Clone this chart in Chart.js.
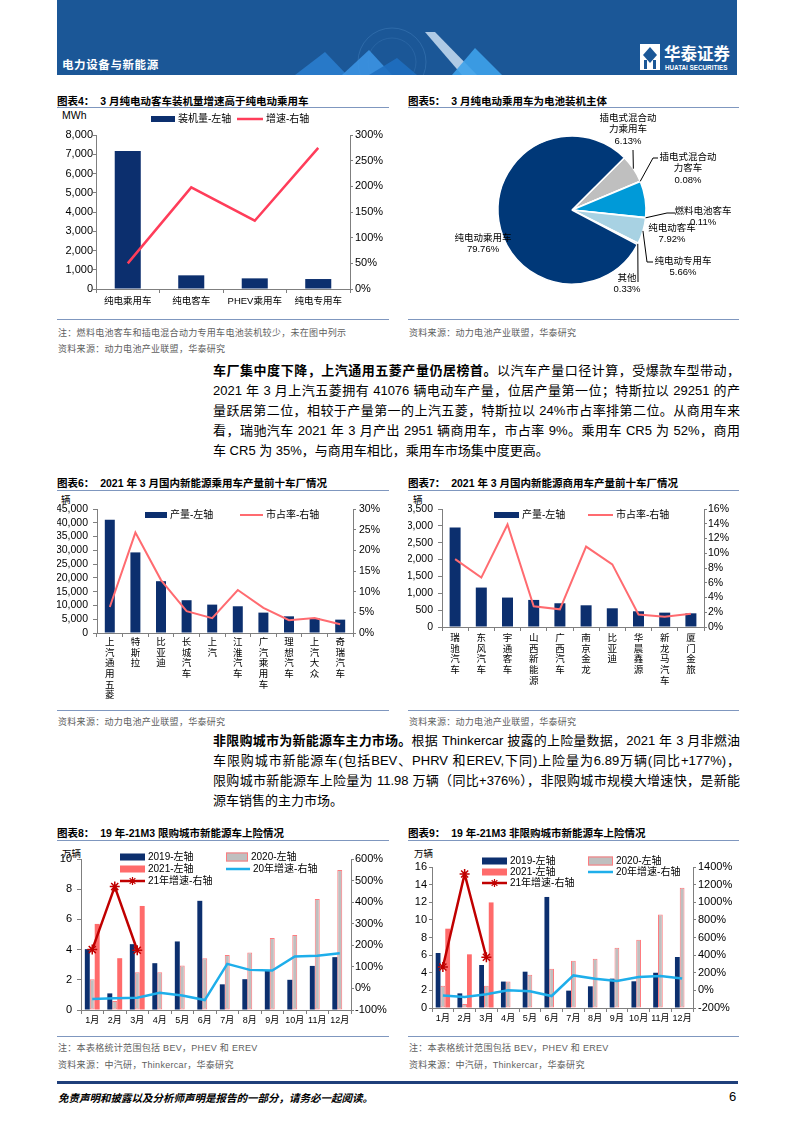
<!DOCTYPE html>
<html>
<head>
<meta charset="utf-8">
<script src="https://cdn.jsdelivr.net/npm/chart.js@4.4.1/dist/chart.umd.min.js"></script>
<style>
  body { margin:0; width:793px; height:1122px; position:relative; overflow:hidden; background:#fff;
         font-family:"Liberation Sans","Noto Sans CJK SC",sans-serif; color:#000; }
  .abs { position:absolute; }
  .title { position:absolute; font-size:10.5px; font-weight:700; white-space:nowrap; }
  .rule { position:absolute; height:0; border-top:1.5px solid #7f97bf; }
  .note { position:absolute; font-size:9px; color:#606060; white-space:nowrap; letter-spacing:0.3px; }
  .unit { position:absolute; font-size:9.5px; white-space:nowrap; }
  .para div { height:20px; line-height:20px; font-size:13px; white-space:nowrap;
              text-align:justify; text-align-last:justify; }
  .para div.last { text-align:left; text-align-last:left; }
  canvas { position:absolute; }
</style>
</head>
<body>

<!-- 页眉 -->
<svg class="abs" style="left:57px;top:0" width="680" height="75">
  <rect width="680" height="75" fill="#1b5797"/>
  <circle cx="335" cy="62" r="34" fill="none" stroke="#4f8cc8" stroke-width="0.6" opacity="0.6"/>
  <circle cx="335" cy="62" r="24" fill="none" stroke="#4f8cc8" stroke-width="0.5" opacity="0.5"/>
  <polygon points="238,75 268,52 290,75" fill="#2a7fd0" opacity="0.85"/>
  <polygon points="285,75 312,50 335,75" fill="#3d97e6" opacity="0.85"/>
  <polygon points="312,75 340,58 360,75" fill="#1f6fc0" opacity="0.9"/>
  <polygon points="368,32 378,32 420,75 405,75" fill="#c9def2" opacity="0.85"/>
  <polygon points="395,75 418,48 445,75" fill="#3ea2ea" opacity="0.9"/>
  <text x="5" y="69" font-size="11.5" font-weight="700" fill="#fff" letter-spacing="0.6"
        font-family="Noto Sans CJK SC">电力设备与新能源</text>
  <rect x="583" y="44" width="20" height="26" fill="#fff"/>
  <polygon points="593,47 600,55 593,63 586,55" fill="#1b5797"/>
  <rect x="587" y="60" width="3" height="9" fill="#1b5797"/>
  <rect x="596" y="60" width="3" height="9" fill="#1b5797"/>
  <text x="607" y="60" font-size="16.5" font-weight="700" fill="#fff" font-family="Noto Sans CJK SC">华泰证券</text>
  <text x="608" y="70" font-size="6.3" font-weight="700" fill="#fff" font-family="Liberation Sans">HUATAI SECURITIES</text>
</svg>

<!-- 图表4 / 图表5 -->
<div class="title" style="left:57px;top:93px">图表4：&nbsp;&nbsp;3 月纯电动客车装机量增速高于纯电动乘用车</div>
<div class="rule" style="left:57px;top:107px;width:332px"></div>
<div class="title" style="left:408px;top:93px">图表5：&nbsp;&nbsp;3 月纯电动乘用车为电池装机主体</div>
<div class="rule" style="left:408px;top:107px;width:331px"></div>
<div class="unit" style="left:62px;top:109px;font-size:10.5px">MWh</div>
<canvas id="c4" width="330" height="205" style="left:57px;top:108px"></canvas>
<canvas id="c5" width="330" height="200" style="left:408px;top:108px"></canvas>
<div class="rule" style="left:57px;top:319px;width:332px"></div>
<div class="rule" style="left:408px;top:319px;width:331px"></div>
<div class="note" style="left:58px;top:326px">注：燃料电池客车和插电混合动力专用车电池装机较少，未在图中列示</div>
<div class="note" style="left:58px;top:342px">资料来源：动力电池产业联盟，华泰研究</div>
<div class="note" style="left:409px;top:326px">资料来源：动力电池产业联盟，华泰研究</div>

<!-- 正文1 -->
<div class="para abs" style="left:213px;top:361px;width:527px">
  <div><b>车厂集中度下降，上汽通用五菱产量仍居榜首。</b>以汽车产量口径计算，受爆款车型带动，</div>
  <div>2021 年 3 月上汽五菱拥有 41076 辆电动车产量，位居产量第一位；特斯拉以 29251 的产</div>
  <div>量跃居第二位，相较于产量第一的上汽五菱，特斯拉以 24%市占率排第二位。从商用车来</div>
  <div>看，瑞驰汽车 2021 年 3 月产出 2951 辆商用车，市占率 9%。乘用车 CR5 为 52%，商用</div>
  <div class="last">车 CR5 为 35%，与商用车相比，乘用车市场集中度更高。</div>
</div>

<!-- 图表6 / 图表7 -->
<div class="title" style="left:57px;top:475px">图表6：&nbsp;&nbsp;2021 年 3 月国内新能源乘用车产量前十车厂情况</div>
<div class="rule" style="left:57px;top:490px;width:332px"></div>
<div class="title" style="left:408px;top:475px">图表7：&nbsp;&nbsp;2021 年 3 月国内新能源商用车产量前十车厂情况</div>
<div class="rule" style="left:408px;top:490px;width:331px"></div>
<div class="unit" style="left:61px;top:492px">辆</div>
<div class="unit" style="left:413px;top:492px">辆</div>
<canvas id="c6" width="330" height="210" style="left:57px;top:493px"></canvas>
<canvas id="c7" width="332" height="210" style="left:408px;top:493px"></canvas>
<div class="rule" style="left:57px;top:710px;width:332px"></div>
<div class="rule" style="left:408px;top:710px;width:331px"></div>
<div class="note" style="left:58px;top:715px">资料来源：动力电池产业联盟，华泰研究</div>
<div class="note" style="left:409px;top:715px">资料来源：动力电池产业联盟，华泰研究</div>

<!-- 正文2 -->
<div class="para abs" style="left:213px;top:731px;width:527px">
  <div><b>非限购城市为新能源车主力市场。</b>根据 Thinkercar 披露的上险量数据，2021 年 3 月非燃油</div>
  <div>车限购城市新能源车(包括BEV、PHRV 和EREV,下同)上险量为6.89万辆(同比+177%)，</div>
  <div>限购城市新能源车上险量为 11.98 万辆（同比+376%），非限购城市规模大增速快，是新能</div>
  <div class="last">源车销售的主力市场。</div>
</div>

<!-- 图表8 / 图表9 -->
<div class="title" style="left:57px;top:825px">图表8：&nbsp;&nbsp;19 年-21M3 限购城市新能源车上险情况</div>
<div class="rule" style="left:57px;top:840px;width:332px"></div>
<div class="title" style="left:408px;top:825px">图表9：&nbsp;&nbsp;19 年-21M3 非限购城市新能源车上险情况</div>
<div class="rule" style="left:408px;top:840px;width:331px"></div>
<div class="unit" style="left:62px;top:846px">万辆</div>
<div class="unit" style="left:414px;top:846px">万辆</div>
<canvas id="c8" width="330" height="188" style="left:57px;top:845px"></canvas>
<canvas id="c9" width="332" height="188" style="left:408px;top:845px"></canvas>
<div class="rule" style="left:57px;top:1036px;width:332px"></div>
<div class="rule" style="left:408px;top:1036px;width:331px"></div>
<div class="note" style="left:58px;top:1041px">注：本表格统计范围包括 BEV，PHEV 和 EREV</div>
<div class="note" style="left:58px;top:1058px">资料来源：中汽研，Thinkercar，华泰研究</div>
<div class="note" style="left:409px;top:1041px">注：本表格统计范围包括 BEV，PHEV 和 EREV</div>
<div class="note" style="left:409px;top:1058px">资料来源：中汽研，Thinkercar，华泰研究</div>

<!-- 页脚 -->
<div class="abs" style="left:57px;top:1081px;width:681px;height:2.5px;background:#1f3f7a"></div>
<div class="abs" style="left:58px;top:1090px;font-size:10.5px;font-style:italic;font-weight:700;white-space:nowrap">免责声明和披露以及分析师声明是报告的一部分，请务必一起阅读。</div>
<div class="abs" style="left:729px;top:1089px;font-size:13px">6</div>

<script>
// 图表4：装机量（MWh）和增速
const c4Labels = ['纯电乘用车', '纯电客车', 'PHEV乘用车', '纯电专用车'];
const c4Install = [7170, 710, 553, 518];
const c4Growth = [50, 198, 133, 275];

// 图表5：装机占比
const c5Labels = ['插电式混合动力乘用车', '插电式混合动力客车', '纯电动客车', '燃料电池客车', '纯电动专用车', '其他', '纯电动乘用车'];
const c5Share = [6.13, 0.08, 7.92, 0.11, 5.66, 0.33, 79.76];

// 图表6：乘用车前十
const c6Makers = ['上汽通用五菱', '特斯拉', '比亚迪', '长城汽车', '上汽', '江淮汽车', '广汽乘用车', '理想汽车', '上汽大众', '奇瑞汽车'];
const c6Output = [41076, 29251, 18800, 11900, 10300, 9700, 7400, 6050, 5450, 4850];
const c6Share = [6.3, 24.3, 12.8, 5.3, 3.6, 10.4, 6.1, 3.1, 3.6, 2.1];

// 图表7：商用车前十
const c7Makers = ['瑞驰汽车', '东风汽车', '宇通客车', '山西新能源', '广西汽车', '南京金龙', '比亚迪', '华晨鑫源', '新龙马汽车', '厦门金旅'];
const c7Output = [2951, 1170, 873, 803, 704, 644, 555, 466, 426, 406];
const c7Share = [9.2, 6.7, 13.9, 2.8, 2.4, 10.9, 8.5, 1.7, 1.4, 1.8];

// 图表8 / 图表9：上险量（万辆）与增速
const months = ['1月', '2月', '3月', '4月', '5月', '6月', '7月', '8月', '9月', '10月', '11月', '12月'];
const c8Y2019 = [4.03, 1.10, 4.36, 3.10, 4.54, 7.23, 1.70, 2.04, 2.60, 2.00, 2.92, 3.50];
const c8Y2020 = [2.04, 0.60, 2.50, 2.50, 2.94, 3.43, 3.65, 3.80, 4.76, 4.96, 7.35, 9.27];
const c8Y2021 = [5.70, 3.43, 6.89];
const c8G2020 = [-49, -46, -43, -20, -33, -54, 114, 86, 83, 148, 152, 163];
const c8G2021 = [180, 472, 177];

const c9Y2019 = [6.24, 1.66, 4.88, 3.00, 4.12, 12.60, 1.97, 2.46, 3.33, 3.03, 4.00, 5.79];
const c9Y2020 = [2.53, 0.45, 2.52, 3.00, 3.78, 4.46, 5.37, 5.60, 6.85, 7.75, 10.60, 13.65];
const c9Y2021 = [9.00, 6.09, 11.98];
const c9G2020 = [-57, -74, -45, 0, -11, -64, 170, 132, 106, 151, 163, 136];
const c9G2021 = [265, 1320, 376];

const FONT = '"Liberation Sans","Noto Sans CJK SC",sans-serif';
Chart.defaults.font.family = FONT;
Chart.defaults.color = '#000';
Chart.defaults.animation = false;
Chart.defaults.plugins.legend.display = false;
Chart.defaults.plugins.tooltip.enabled = false;

const NAVY = '#0c2f6e';
const AXIS = '#7f7f7f';

function yAxis(pos, min, max, step, w, fmt, tick, pad, size) {
  return {
    position: pos, min: min, max: max,
    grid: { drawOnChartArea: false, tickLength: tick, color: AXIS },
    border: { color: AXIS },
    ticks: { stepSize: step, padding: pad, font: { size: size }, callback: fmt, autoSkip: false },
    afterFit: s => { s.width = w; }
  };
}
function xAxis(h, pad, size) {
  return {
    grid: { drawOnChartArea: false, tickLength: 4, color: AXIS, offset: true },
    border: { color: AXIS },
    ticks: { padding: pad, font: { size: size, lineHeight: 1.12 }, autoSkip: false, maxRotation: 0, minRotation: 0 },
    afterFit: s => { s.height = h; }
  };
}
const thousands = v => v.toLocaleString('en-US');
const pct = v => v + '%';

// 图例（画在绘图区内）
const boxLegend = {
  id: 'boxLegend',
  afterDraw(chart, args, opts) {
    if (!opts.items) return;
    const ctx = chart.ctx;
    ctx.save();
    ctx.font = (opts.size || 10) + 'px ' + FONT;
    ctx.textBaseline = 'middle';
    opts.items.forEach(it => {
      const ds = chart.data.datasets[it.ds];
      const type = ds.type || chart.config.type;
      if (type === 'bar') {
        const h = it.h || 7;
        ctx.fillStyle = ds.backgroundColor;
        ctx.fillRect(it.x, it.y - h / 2, it.w, h);
        if (ds.borderWidth) {
          ctx.strokeStyle = ds.borderColor;
          ctx.lineWidth = 1;
          ctx.strokeRect(it.x + 0.5, it.y - h / 2 + 0.5, it.w - 1, h - 1);
        }
      } else {
        ctx.strokeStyle = ds.borderColor;
        ctx.lineWidth = ds.borderWidth;
        ctx.beginPath();
        ctx.moveTo(it.x, it.y);
        ctx.lineTo(it.x + it.w, it.y);
        ctx.stroke();
        if (ds.pointStyle === 'star') {
          const cx = it.x + it.w / 2, r = 4;
          ctx.lineWidth = 1.2;
          ctx.beginPath();
          for (let k = 0; k < 4; k++) {
            const a = k * Math.PI / 4;
            ctx.moveTo(cx - r * Math.cos(a), it.y - r * Math.sin(a));
            ctx.lineTo(cx + r * Math.cos(a), it.y + r * Math.sin(a));
          }
          ctx.stroke();
        }
      }
      ctx.fillStyle = '#000';
      ctx.fillText(ds.label, it.x + it.w + 3, it.y);
    });
    ctx.restore();
  }
};

// 饼图标签和引线
const pieLabels = {
  id: 'pieLabels',
  afterDraw(chart, args, opts) {
    if (!opts.items) return;
    const ctx = chart.ctx;
    const arcs = chart.getDatasetMeta(0).data;
    const vals = chart.data.datasets[0].data;
    const names = chart.data.labels;
    ctx.save();
    ctx.font = '9.5px ' + FONT;
    ctx.textAlign = 'center';
    ctx.textBaseline = 'middle';
    ctx.fillStyle = '#000';
    ctx.strokeStyle = '#000';
    ctx.lineWidth = 1;
    opts.items.forEach(it => {
      const a = arcs[it.i];
      const p = a.getProps(['x', 'y', 'startAngle', 'endAngle', 'outerRadius']);
      const mid = (p.startAngle + p.endAngle) / 2;
      if (it.path) {
        ctx.beginPath();
        ctx.moveTo(p.x + p.outerRadius * Math.cos(mid), p.y + p.outerRadius * Math.sin(mid));
        it.path.forEach(q => ctx.lineTo(p.x + q[0], p.y + q[1]));
        ctx.stroke();
      }
      const name = names[it.i];
      const lines = it.split ? [name.slice(0, it.split), name.slice(it.split)] : [name];
      lines.push(vals[it.i].toFixed(2) + '%');
      lines.forEach((t, k) => ctx.fillText(t, p.x + it.dx, p.y + it.dy + k * 11.5));
    });
    ctx.restore();
  }
};
Chart.register(boxLegend, pieLabels);

// 图表4
new Chart(document.getElementById('c4'), {
  type: 'bar',
  data: {
    labels: c4Labels,
    datasets: [
      { label: '装机量-左轴', data: c4Install, backgroundColor: NAVY, yAxisID: 'y',
        categoryPercentage: 1, barPercentage: 0.41, order: 2 },
      { type: 'line', label: '增速-右轴', data: c4Growth, borderColor: '#ff3d5a', borderWidth: 2.5,
        pointRadius: 0, yAxisID: 'y2', order: 1 }
    ]
  },
  options: {
    responsive: false,
    layout: { padding: { top: 27, left: 0, right: 0, bottom: 0 } },
    scales: {
      x: xAxis(24, 3, 9.5),
      y: yAxis('left', 0, 8000, 1000, 39, thousands, 3, 0, 11),
      y2: yAxis('right', 0, 300, 50, 37, pct, 3, 2, 11)
    },
    plugins: { boxLegend: { size: 10, items: [
      { ds: 0, x: 94, y: 11, w: 24, h: 6 },
      { ds: 1, x: 180, y: 11, w: 26 }
    ] } }
  }
});

// 图表5
new Chart(document.getElementById('c5'), {
  type: 'pie',
  data: {
    labels: c5Labels,
    datasets: [{
      data: c5Share,
      backgroundColor: ['#bfbfbf', '#7f7f7f', '#009ad8', '#ffc000', '#a8d2e3', '#5b9bd5', '#003878'],
      borderColor: '#fff', borderWidth: 1.5
    }]
  },
  options: {
    responsive: false,
    radius: 74,
    rotation: 45,
    layout: { padding: { left: 84, right: 86, top: 22, bottom: 18 } },
    plugins: { pieLabels: { items: [
      { i: 0, split: 6, dx: 56, dy: -92, path: [[61, -60]] },
      { i: 1, split: 6, dx: 116, dy: -53, path: [[81, -52], [86, -52]] },
      { i: 2, dx: 100, dy: 18 },
      { i: 3, dx: 131, dy: 1, path: [[95, 3], [103, 3]] },
      { i: 4, dx: 111, dy: 51, path: [[75, 52], [81, 52]] },
      { i: 5, dx: 55, dy: 68, path: [[66, 72]] },
      { i: 6, dx: -89, dy: 28 }
    ] } }
  }
});

// 图表6
new Chart(document.getElementById('c6'), {
  type: 'bar',
  data: {
    labels: c6Makers.map(s => s.split('')),
    datasets: [
      { label: '产量-左轴', data: c6Output, backgroundColor: NAVY, yAxisID: 'y',
        categoryPercentage: 1, barPercentage: 0.39, order: 2 },
      { type: 'line', label: '市占率-右轴', data: c6Share, borderColor: '#ff6b70', borderWidth: 2,
        pointRadius: 0, yAxisID: 'y2', order: 1 }
    ]
  },
  options: {
    responsive: false,
    layout: { padding: { top: 16, left: 0, right: 0, bottom: 0 } },
    scales: {
      x: xAxis(70, 0, 9.5),
      y: yAxis('left', 0, 45000, 5000, 40, thousands, 4, 5, 10.5),
      y2: yAxis('right', 0, 30, 5, 34, pct, 3, 3, 10.5)
    },
    plugins: { boxLegend: { size: 10, items: [
      { ds: 0, x: 88, y: 22, w: 22, h: 6 },
      { ds: 1, x: 183, y: 22, w: 23 }
    ] } }
  }
});

// 图表7
new Chart(document.getElementById('c7'), {
  type: 'bar',
  data: {
    labels: c7Makers.map(s => s.split('')),
    datasets: [
      { label: '产量-左轴', data: c7Output, backgroundColor: NAVY, yAxisID: 'y',
        categoryPercentage: 1, barPercentage: 0.42, order: 2 },
      { type: 'line', label: '市占率-右轴', data: c7Share, borderColor: '#ff6b70', borderWidth: 2,
        pointRadius: 0, yAxisID: 'y2', order: 1 }
    ]
  },
  options: {
    responsive: false,
    layout: { padding: { top: 16, left: 0, right: 0, bottom: 0 } },
    scales: {
      x: xAxis(76, 2, 9.5),
      y: yAxis('left', 0, 3500, 500, 34, thousands, 4, 5, 10.5),
      y2: yAxis('right', 0, 16, 2, 36, pct, 3, 1, 10.5)
    },
    plugins: { boxLegend: { size: 10, items: [
      { ds: 0, x: 86, y: 22, w: 25, h: 6 },
      { ds: 1, x: 180, y: 22, w: 25 }
    ] } }
  }
});

function insuranceChart(id, y19, y20, y21, g20, g21, axes, legendItems, top, xh) {
  return new Chart(document.getElementById(id), {
    type: 'bar',
    data: {
      labels: months,
      datasets: [
        { label: '2019-左轴', data: y19, backgroundColor: NAVY, yAxisID: 'y', order: 3 },
        { label: '2020-左轴', data: y20, backgroundColor: '#bfbfbf', borderColor: '#ff7b7f', borderWidth: 1,
          borderSkipped: false, yAxisID: 'y', order: 3 },
        { label: '2021-左轴', data: y21, backgroundColor: '#ff6b6b', yAxisID: 'y', order: 3 },
        { type: 'line', label: '20年增速-右轴', data: g20, borderColor: '#1eaeea', borderWidth: 2.5,
          pointRadius: 0, yAxisID: 'y2', order: 2 },
        { type: 'line', label: '21年增速-右轴', data: g21, borderColor: '#c00000', borderWidth: 2.5,
          pointStyle: 'star', pointRadius: 5, pointBorderColor: '#c00000', pointBorderWidth: 1.5,
          yAxisID: 'y2', order: 1 }
      ]
    },
    options: {
      responsive: false,
      datasets: { bar: { categoryPercentage: 0.66, barPercentage: 1 } },
      layout: { padding: { top: top, left: 0, right: 0, bottom: 0 } },
      scales: { x: xAxis(xh, 1, 9), y: axes[0], y2: axes[1] },
      plugins: { boxLegend: { size: 10, items: legendItems } }
    }
  });
}

// 图表8
insuranceChart('c8', c8Y2019, c8Y2020, c8Y2021, c8G2020, c8G2021, [
  yAxis('left', 0, 10, 2, 24, v => v, 4, 5, 11),
  yAxis('right', -100, 600, 100, 36, pct, 3, 1, 11)
], [
  { ds: 0, x: 63, y: 12, w: 25, h: 7 },
  { ds: 1, x: 169, y: 12, w: 22, h: 9 },
  { ds: 2, x: 63, y: 24, w: 25, h: 7 },
  { ds: 3, x: 169, y: 24, w: 24 },
  { ds: 4, x: 63, y: 36, w: 25 }
], 14, 23);

// 图表9
insuranceChart('c9', c9Y2019, c9Y2020, c9Y2021, c9G2020, c9G2021, [
  yAxis('left', 0, 16, 2, 24, v => v, 3, 2, 11),
  yAxis('right', -200, 1400, 200, 47, pct, 3, 2, 11)
], [
  { ds: 0, x: 74, y: 16, w: 25, h: 7 },
  { ds: 1, x: 180, y: 16, w: 25, h: 9 },
  { ds: 2, x: 74, y: 27, w: 25, h: 7 },
  { ds: 3, x: 180, y: 27, w: 25 },
  { ds: 4, x: 74, y: 38, w: 25 }
], 22, 25);
</script>
</body>
</html>
